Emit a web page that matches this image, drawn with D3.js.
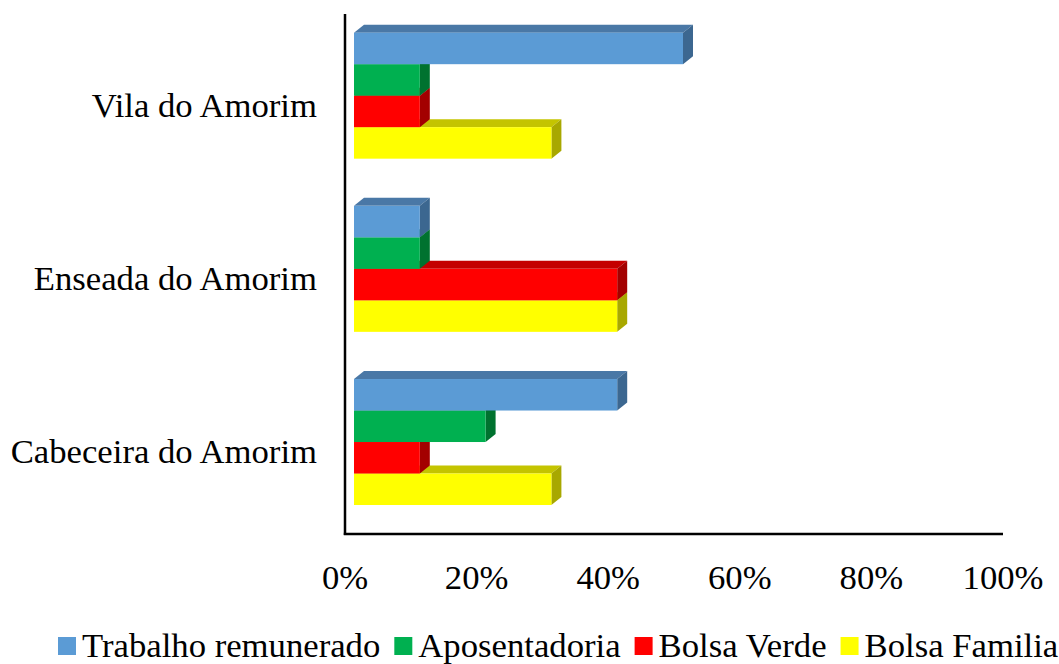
<!DOCTYPE html>
<html><head><meta charset="utf-8">
<script src="https://cdn.jsdelivr.net/npm/d3@7"></script>
<style>body{margin:0;background:#fff}svg{display:block}text{font-family:"Liberation Serif","Times New Roman",serif;fill:#000}</style>
</head><body><svg id="c" width="1059" height="664"></svg>
<script>
const categories = ["Vila do Amorim", "Enseada do Amorim", "Cabeceira do Amorim"];
const seriesNames = ["Trabalho remunerado", "Aposentadoria", "Bolsa Verde", "Bolsa Familia"];
const trabalho = [0.50, 0.10, 0.40];
const aposentadoria = [0.10, 0.10, 0.20];
const bolsaVerde = [0.10, 0.40, 0.10];
const bolsaFamilia = [0.30, 0.40, 0.30];
const tickValues = [0, 0.2, 0.4, 0.6, 0.8, 1.0];
const seriesValues = [trabalho, aposentadoria, bolsaVerde, bolsaFamilia];
const frontColors = ["#5B9BD5", "#00B050", "#FF0000", "#FFFF00"];
const topColors = ["#4A78A6", "#008A3E", "#C40000", "#C4C400"];
const sideColors = ["#3C6790", "#00722F", "#A30000", "#A8A800"];

const svg = d3.select("#c");
const fs = 34.7;
const x = d3.scaleLinear().domain([0, 1]).range([345, 1003]);
const y = d3.scaleBand().domain(categories).range([9.1, 528.6]).paddingInner(0.2725).paddingOuter(0.13625);
const ys = d3.scaleBand().domain(seriesNames).range([0, y.bandwidth()]);
const off = 9, dx = 10, dy = 8;

// bars
const bars = [];
categories.forEach((c, ci) => {
  seriesNames.forEach((s, si) => bars.push({c, s, si, v: seriesValues[si][ci]}));
});
bars.sort((a, b) => b.si - a.si);
const g = svg.append("g");
bars.forEach(d => {
  const x0 = x(0) + off, x1 = x(d.v) + off;
  const t = y(d.c) + ys(d.s), b = t + ys.bandwidth();
  g.append("path").attr("d", `M${x0},${t}L${x0+dx},${t-dy}L${x1+dx},${t-dy}L${x1},${t}Z`).attr("fill", topColors[d.si]);
  g.append("path").attr("d", `M${x1},${t}L${x1+dx},${t-dy}L${x1+dx},${b-dy}L${x1},${b}Z`).attr("fill", sideColors[d.si]);
  g.append("rect").attr("x", x0).attr("y", t).attr("width", x1 - x0).attr("height", b - t).attr("fill", frontColors[d.si]);
});

// axes
svg.append("line").attr("x1", x(0)).attr("x2", x(0)).attr("y1", 14).attr("y2", 535).attr("stroke", "#000").attr("stroke-width", 2.5);
svg.append("line").attr("x1", x(0) - 1.2).attr("x2", x(1)).attr("y1", 534).attr("y2", 534).attr("stroke", "#000").attr("stroke-width", 2.5);

// tick labels
svg.selectAll(".tk").data(tickValues).enter().append("text")
  .attr("x", d => x(d)).attr("y", 589).attr("text-anchor", "middle").attr("font-size", fs)
  .text(d => d3.format(".0%")(d));

// category labels
svg.selectAll(".cl").data(categories).enter().append("text")
  .attr("x", 317).attr("y", d => y(d) + y.bandwidth() / 2 + 9).attr("dy", "0.35em")
  .attr("text-anchor", "end").attr("font-size", fs).text(d => d);

// legend
const lg = svg.append("g");
let lx = 58;
seriesNames.forEach((s, i) => {
  lg.append("rect").attr("x", lx).attr("y", 637).attr("width", 18).attr("height", 18).attr("fill", frontColors[i]);
  const t = lg.append("text").attr("x", lx + 24).attr("y", 657).attr("font-size", fs).text(s);
  lx += 24 + t.node().getComputedTextLength() + 14;
});
</script></body></html>
